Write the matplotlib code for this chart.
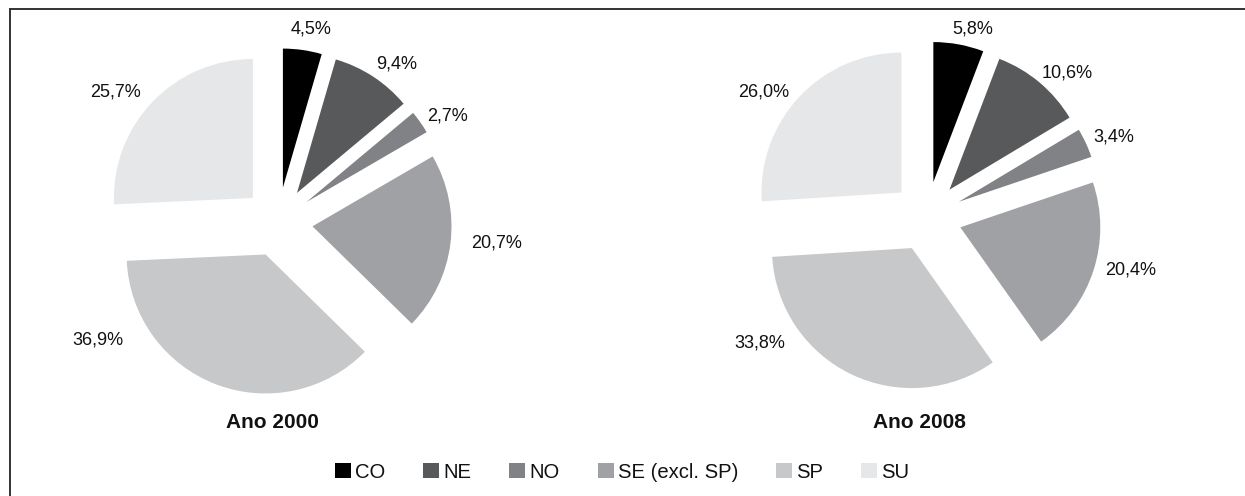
import numpy as np
import matplotlib
matplotlib.use("Agg")
import matplotlib.pyplot as plt
from matplotlib.patches import Patch
from matplotlib.lines import Line2D

plt.rcParams['font.family'] = ['Liberation Sans', 'DejaVu Sans']

# ---- data ----
regions = ["CO", "NE", "NO", "SE (excl. SP)", "SP", "SU"]
values_2000 = [4.5, 9.4, 2.7, 20.7, 36.9, 25.7]
values_2008 = [5.8, 10.6, 3.4, 20.4, 33.8, 26.0]
titles = ["Ano 2000", "Ano 2008"]

# ---- style ----
colors = ["#000000", "#58595b", "#808285", "#a0a1a4", "#c7c8ca", "#e6e7e8"]
W, H = 1245, 496
explode_frac = 0.25
L = 1.6
# per-label (angle offset deg, radial distance in radii) for text placement
label_style_2000 = [(1.6, 1.41), (3.9, 1.42), (3.1, 1.44), (-1.5, 1.58), (36.0, 1.55), (-5.1, 1.50)]
label_style_2008 = [(3.3, 1.38), (4.3, 1.43), (1.9, 1.45), (-3.3, 1.50), (27.3, 1.50), (-5.8, 1.47)]

fig = plt.figure(figsize=(W / 100, H / 100), dpi=100)


def pie_axes(cx, cy_top, r):
    s = 2 * L * r
    ax = fig.add_axes([(cx - s / 2) / W, (H - cy_top - s / 2) / H, s / W, s / H])
    return ax


def draw(ax, vals, lstyle):
    tot = sum(vals)
    ax.pie(vals, colors=colors, startangle=90, counterclock=False,
           explode=[explode_frac] * len(vals), radius=1.0,
           wedgeprops=dict(linewidth=0), normalize=True)
    ax.set_xlim(-L, L)
    ax.set_ylim(-L, L)
    ax.set_aspect('equal')
    ax.axis('off')
    cum = np.cumsum([0] + list(vals))
    for i, v in enumerate(vals):
        mid = (cum[i] + cum[i + 1]) / 2 / tot * 360.0
        da, dist = lstyle[i]
        ang = np.deg2rad(mid + da)
        x, y = dist * np.sin(ang), dist * np.cos(ang)
        ax.text(x, y, f"{v:.1f}%".replace(".", ","), ha='center', va='center',
                fontsize=13, color='#111111')


ax1 = pie_axes(278, 222, 139)
draw(ax1, values_2000, label_style_2000)
ax2 = pie_axes(927, 216.5, 140)
draw(ax2, values_2008, label_style_2008)

fig.text(272 / W, 1 - 422 / H, titles[0], ha='center', va='center',
         fontsize=15, fontweight='bold', color='#111111')
fig.text(919 / W, 1 - 422 / H, titles[1], ha='center', va='center',
         fontsize=15, fontweight='bold', color='#111111')

handles = [Patch(facecolor=c, edgecolor='none', label=l) for c, l in zip(colors, regions)]
leg = fig.legend(handles=handles, loc='center', bbox_to_anchor=(622 / W, 1 - 472 / H),
                 ncol=6, frameon=False, fontsize=14.6, handlelength=0.79,
                 handleheight=0.79, handletextpad=0.2, columnspacing=1.87,
                 borderpad=0, borderaxespad=0)
for t in leg.get_texts():
    t.set_color('#111111')

# frame lines (top and left only, as in reference)
fig.add_artist(Line2D([9.5 / W, 1.0], [1 - 9 / H, 1 - 9 / H], color='#333333', linewidth=1.4,
                      transform=fig.transFigure))
fig.add_artist(Line2D([9.5 / W, 9.5 / W], [0, 1 - 9 / H], color='#333333', linewidth=1.4,
                      transform=fig.transFigure))

fig.savefig("out.png", dpi=100, facecolor='white')
